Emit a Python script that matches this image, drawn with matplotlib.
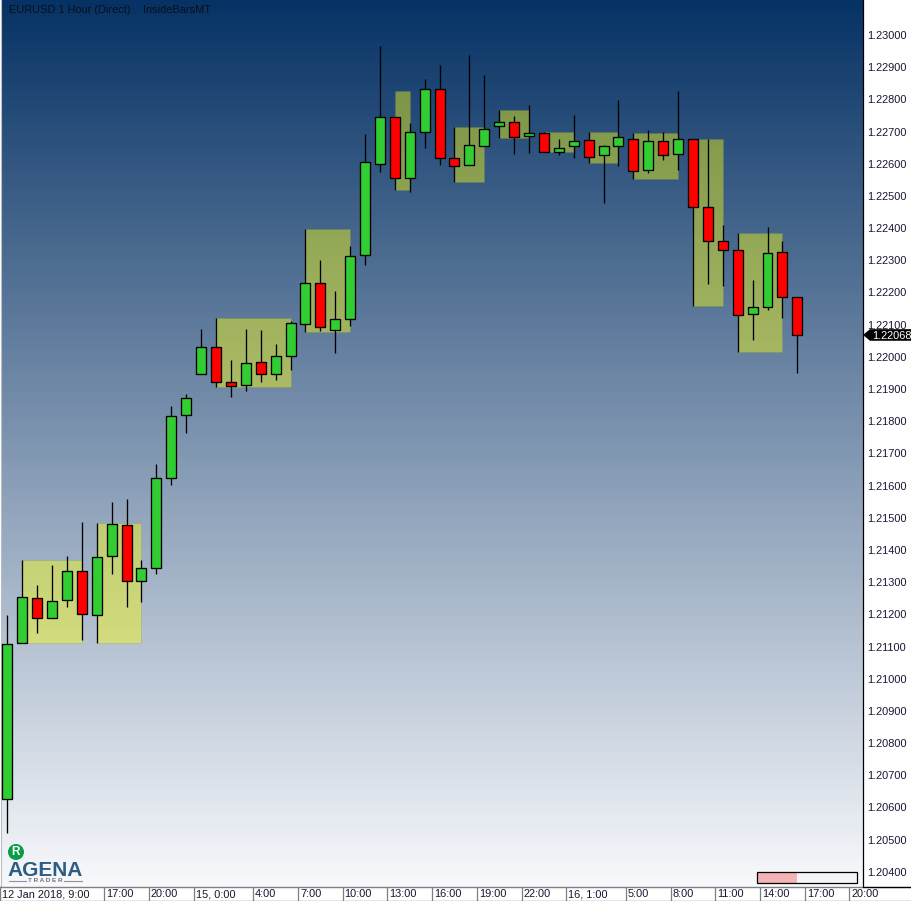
"""EURUSD hourly candles with inside bar zones, AgenaTrader look."""

from __future__ import annotations

import matplotlib

matplotlib.use("Agg")
import matplotlib.pyplot as plt
import numpy as np
from matplotlib.colors import LinearSegmentedColormap
from matplotlib.lines import Line2D
from matplotlib.patches import Circle, Polygon, Rectangle
from matplotlib.transforms import Affine2D

opens = [
    1.20626, 1.21111, 1.21251, 1.21189, 1.21245, 1.21335, 1.21198, 1.21381, 1.21478,
    1.21304, 1.21344, 1.21624, 1.21819, 1.21947, 1.22031, 1.21922, 1.21913, 1.21984,
    1.21947, 1.22003, 1.22102, 1.22229, 1.22083, 1.22118, 1.22316, 1.22599, 1.22745,
    1.22556, 1.22699, 1.22832, 1.22618, 1.22596, 1.22655, 1.22717, 1.22730, 1.22686,
    1.22696, 1.22636, 1.22655, 1.22674, 1.22627, 1.22655, 1.22677, 1.22581, 1.22671,
    1.22630, 1.22677, 1.22466, 1.22360, 1.22332, 1.22133, 1.22155, 1.22326, 1.22186,
]
highs = [
    1.21198, 1.21369, 1.21291, 1.21353, 1.21381, 1.21487, 1.21484, 1.21549, 1.21558,
    1.21369, 1.21667, 1.21847, 1.21885, 1.22087, 1.22121, 1.21990, 1.22087, 1.22083,
    1.22040, 1.22111, 1.22397, 1.22301, 1.22205, 1.22344, 1.22692, 1.22966, 1.22745,
    1.22727, 1.22863, 1.22907, 1.22714, 1.22938, 1.22876, 1.22767, 1.22748, 1.22783,
    1.22699, 1.22677, 1.22751, 1.22699, 1.22658, 1.22798, 1.22696, 1.22705, 1.22699,
    1.22826, 1.22677, 1.22677, 1.22410, 1.22385, 1.22239, 1.22403, 1.22360, 1.22186,
]
lows = [
    1.20521, 1.21111, 1.21142, 1.21189, 1.21223, 1.21120, 1.21111, 1.21325, 1.21223,
    1.21238, 1.21325, 1.21602, 1.21763, 1.21947, 1.21906, 1.21875, 1.21894, 1.21922,
    1.21928, 1.21959, 1.22077, 1.22080, 1.22012, 1.22096, 1.22285, 1.22574, 1.22518,
    1.22512, 1.22649, 1.22596, 1.22543, 1.22596, 1.22655, 1.22680, 1.22630, 1.22633,
    1.22636, 1.22627, 1.22618, 1.22602, 1.22478, 1.22593, 1.22553, 1.22571, 1.22612,
    1.22581, 1.22158, 1.22226, 1.22220, 1.22015, 1.22052, 1.22146, 1.22121, 1.21950,
]
closes = [
    1.21108, 1.21254, 1.21189, 1.21241, 1.21335, 1.21201, 1.21378, 1.21481, 1.21304,
    1.21344, 1.21624, 1.21816, 1.21872, 1.22031, 1.21922, 1.21909, 1.21981, 1.21947,
    1.22003, 1.22105, 1.22229, 1.22093, 1.22118, 1.22313, 1.22605, 1.22745, 1.22556,
    1.22699, 1.22832, 1.22618, 1.22593, 1.22658, 1.22708, 1.22730, 1.22683, 1.22696,
    1.22636, 1.22649, 1.22671, 1.22621, 1.22655, 1.22683, 1.22577, 1.22671, 1.22627,
    1.22677, 1.22466, 1.22360, 1.22332, 1.22130, 1.22155, 1.22323, 1.22186, 1.22068,
]

# mother bar index, last inside bar index, zone price range
inside_starts = [1, 6, 14, 20, 26, 30, 33, 36, 39, 42, 46, 49]
inside_ends = [5, 9, 19, 23, 27, 32, 35, 38, 41, 45, 48, 52]
inside_tops = [
    1.21369, 1.21484, 1.22121, 1.22397, 1.22826, 1.22714,
    1.22767, 1.22699, 1.22699, 1.22696, 1.22677, 1.22385,
]
inside_bottoms = [
    1.21111, 1.21111, 1.21906, 1.22077, 1.22518, 1.22543,
    1.22680, 1.22636, 1.22602, 1.22553, 1.22158, 1.22015,
]

price_ticks = [round(1.204 + 0.001 * i, 3) for i in range(27)]
time_edges = [-0.5, 6.5, 9.5, 12.5, 16.5, 19.5, 22.5, 25.5, 28.5, 31.5, 34.5, 37.5, 41.5, 44.5, 47.5, 50.5, 53.5, 56.5]
time_labels = [
    "12 Jan 2018, 9:00", "17:00", "20:00", "15, 0:00", "4:00", "7:00", "10:00", "13:00", "16:00",
    "19:00", "22:00", "16, 1:00", "5:00", "8:00", "11:00", "14:00", "17:00", "20:00",
]

WIDTH, HEIGHT = 912, 901
BAR_STEP = 14.906
BAR_ZERO = 7.3
PRICE_PER_PX = 3.107e-5
TEXT_COLOR = "#1c1433"
FONT_SIZE = 7.9


def bar_x(pixel: float) -> float:
    return (pixel - BAR_ZERO) / BAR_STEP


def draw_candles(ax) -> None:
    x = np.arange(len(opens))
    o, h, l, c = map(np.array, (opens, highs, lows, closes))
    tops = np.maximum(o, c)
    bottoms = np.minimum(o, c)
    colors = ["#32cd32" if cl >= op else "#ff0000" for op, cl in zip(o, c)]

    starts = np.array(inside_starts)
    ends = np.array(inside_ends)
    zone_tops = np.array(inside_tops)
    zone_bottoms = np.array(inside_bottoms)
    ax.bar(
        starts,
        zone_tops - zone_bottoms,
        width=ends - starts,
        bottom=zone_bottoms,
        align="edge",
        color=(0.98, 1.0, 0.06, 0.43),
        edgecolor=(0.45, 0.5, 0.2, 0.2),
        linewidth=0.7,
        zorder=2,
    )
    ax.vlines(x, l, h, color="black", linewidth=0.95, zorder=3)
    ax.bar(x, tops - bottoms, width=0.67, bottom=bottoms, color=colors, edgecolor="black", linewidth=0.95, zorder=4)


def draw_price_tag(ax) -> None:
    last = closes[-1]
    half = 5.8 * PRICE_PER_PX
    span = WIDTH - 50
    tag = Polygon(
        [
            (1.0, last),
            (1 + 7 / span, last + half),
            (1 + 50 / span, last + half),
            (1 + 50 / span, last - half),
            (1 + 7 / span, last - half),
        ],
        closed=True,
        facecolor="black",
        edgecolor="none",
        transform=ax.get_yaxis_transform(),
        clip_on=False,
        zorder=6,
    )
    ax.add_patch(tag)
    ax.text(
        1 + 9 / span,
        last,
        f"{last:.5f}",
        color="white",
        fontsize=FONT_SIZE,
        va="center_baseline",
        ha="left",
        transform=ax.get_yaxis_transform(),
        clip_on=False,
        zorder=7,
    )


def draw_time_axis(fig) -> None:
    ax = fig.add_axes([0, 0, 1, 14 / HEIGHT])
    ax.set_xlim(bar_x(0), bar_x(WIDTH))
    ax.set_ylim(0, 1)
    ax.set_xticks([])
    ax.set_yticks([])
    for spine in ax.spines.values():
        spine.set_color("#7f7f7f")
        spine.set_linewidth(1.0)
    ax.vlines(time_edges[1:], 0, 1, color="#7f7f7f", linewidth=0.9)
    for edge, label in zip(time_edges, time_labels):
        ax.text(edge + 0.13, 0.47, label, color=TEXT_COLOR, fontsize=FONT_SIZE, ha="left", va="center")


def draw_furniture(fig) -> None:
    # pixel space, origin top left
    px = Affine2D().scale(1, -1).translate(0, HEIGHT)

    fig.text(9, 10, "EURUSD 1 Hour (Direct)", transform=px, fontsize=FONT_SIZE, color="#0b0f18", va="center")
    fig.text(143, 10, "InsideBarsMT", transform=px, fontsize=FONT_SIZE, color="#0b0f18", va="center")

    fig.add_artist(Line2D([863, 912], [887, 887], color="black", linewidth=0.9, transform=px))

    # progress meter, bottom right
    fig.add_artist(Rectangle((797, 872), 60, 11, facecolor="#f3f5f8", edgecolor="none", transform=px))
    fig.add_artist(Rectangle((757, 872), 40, 11, facecolor="#f4b4b6", edgecolor="none", transform=px))
    fig.add_artist(Rectangle((757, 872), 100, 11, facecolor="none", edgecolor="black", linewidth=0.9, transform=px))

    # logo
    fig.add_artist(Circle((16, 852), 8, facecolor="#0b9c48", edgecolor="none", transform=px))
    fig.text(16, 852, "R", transform=px, color="white", fontsize=8.5, fontweight="bold", ha="center", va="center")
    fig.text(45, 870, "AGENA", transform=px, color="#2f5c82", fontsize=15, fontweight="bold", ha="center", va="center")
    fig.text(45, 880.5, "T R A D E R", transform=px, color="#6f7478", fontsize=4.6, fontweight="bold", ha="center", va="center")
    fig.add_artist(Line2D([9, 26], [880.5, 880.5], color="#8c9297", linewidth=0.8, transform=px))
    fig.add_artist(Line2D([64, 82], [880.5, 880.5], color="#8c9297", linewidth=0.8, transform=px))


def main() -> None:
    plt.rcParams["font.family"] = ["Liberation Sans", "DejaVu Sans"]

    fig = plt.figure(figsize=(WIDTH / 100, HEIGHT / 100), dpi=100, facecolor="white")
    ax = fig.add_axes([1 / WIDTH, (HEIGHT - 887) / HEIGHT, 862 / WIDTH, 887 / HEIGHT])

    cmap = LinearSegmentedColormap.from_list("chart_bg", ["#063265", "#f8f9fc"])
    ax.imshow(
        np.linspace(0, 1, 512).reshape(-1, 1),
        cmap=cmap,
        aspect="auto",
        extent=(0, 1, 0, 1),
        transform=ax.transAxes,
        zorder=0,
    )

    draw_candles(ax)

    ax.set_xlim(bar_x(1), bar_x(863))
    ax.set_ylim(1.23 - 852 * PRICE_PER_PX, 1.23 + 35 * PRICE_PER_PX)
    ax.set_xticks([])
    ax.yaxis.tick_right()
    ax.set_yticks(price_ticks, labels=[f"{tick:.5f}" for tick in price_ticks])
    ax.tick_params(axis="y", length=0, pad=3.0, labelsize=FONT_SIZE, labelcolor=TEXT_COLOR)
    ax.spines["top"].set_visible(False)
    ax.spines["bottom"].set_visible(False)
    ax.spines["left"].set_color("#b9bec4")
    ax.spines["right"].set_color("black")
    ax.spines["right"].set_linewidth(0.9)

    draw_price_tag(ax)
    draw_time_axis(fig)
    draw_furniture(fig)

    fig.savefig("out.png", dpi=100, facecolor="white")
    plt.close(fig)


if __name__ == "__main__":
    main()
